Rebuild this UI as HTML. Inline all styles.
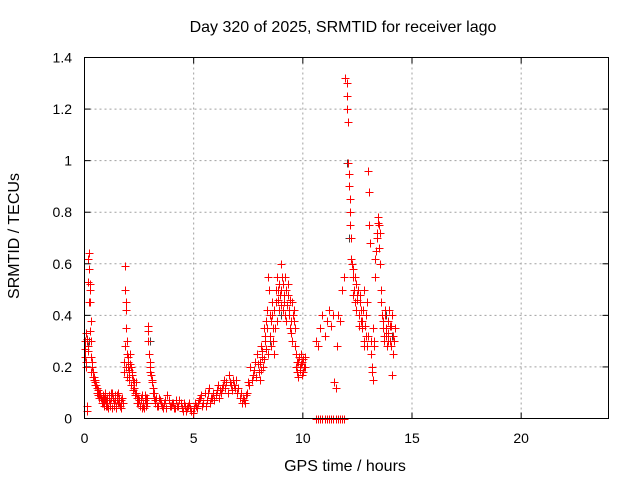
<!DOCTYPE html>
<html><head><meta charset="utf-8"><style>
html,body{margin:0;padding:0;background:#fff;}
svg{display:block;font-family:"Liberation Sans",sans-serif;}
</style></head><body>
<svg id="chart" width="640" height="480" viewBox="0 0 640 480" xmlns="http://www.w3.org/2000/svg">
<rect width="640" height="480" fill="#fff"/>
<text x="343" y="32" font-size="16" text-anchor="middle">Day 320 of 2025, SRMTID for receiver lago</text>
<text x="19" y="236" font-size="16" text-anchor="middle" transform="rotate(-90 19 236)">SRMTID / TECUs</text>
<text x="345" y="471" font-size="16" text-anchor="middle">GPS time / hours</text>
<g id="grid"></g>
<g id="ticks"></g>
<g id="grey"></g>
<g id="red"></g>
<rect x="84.5" y="57.5" width="524" height="361" fill="none" stroke="#000" stroke-width="1"/>
</svg>
<script>
const xTicks = [0,5,10,15,20];
const yTicks = [0,0.2,0.4,0.6,0.8,1,1.2,1.4];
const yTickLabels = ["0","0.2","0.4","0.6","0.8","1","1.2","1.4"];
const redTimes = [
0.02,0.04,0.06,0.08,0.1,0.12,0.14,0.16,0.18,0.2,0.22,0.24,0.26,0.28,0.3,0.32,
0.35,0.38,0.41,0.44,0.47,0.5,0.55,0.6,0.65,0.7,0.75,0.8,0.85,0.9,0.95,1.0,
1.05,1.1,1.15,1.2,1.25,1.3,1.35,1.4,1.45,1.5,1.55,1.6,1.65,1.7,1.75,
1.8,1.82,1.84,1.86,1.88,1.9,1.92,1.94,1.96,1.98,2.0,2.04,2.08,2.12,2.16,2.2,2.25,2.3,2.35,2.4,2.45,2.5,
2.55,2.6,2.65,2.7,2.75,2.8,2.85,2.9,2.93,2.96,3.0,3.05,3.1,3.15,3.2,
3.25,3.3,3.4,3.5,3.6,3.7,3.8,3.9,4.0,4.1,4.2,4.3,4.4,4.5,4.6,4.7,4.8,4.9,5.0,5.1,
5.2,5.3,5.4,5.5,5.6,5.7,5.8,5.9,6.0,6.1,6.2,6.3,6.4,6.5,6.6,6.7,6.8,6.9,7.0,7.1,7.2,7.3,7.4,
7.5,7.6,7.7,7.8,7.9,8.0,8.05,8.1,8.15,8.2,8.25,8.3,8.35,8.4,8.45,8.5,8.55,8.6,8.65,8.7,
8.75,8.8,8.85,8.9,8.95,9.0,9.05,9.1,9.15,9.2,9.25,9.3,9.35,9.4,9.45,9.5,9.55,9.6,9.65,9.7,
9.75,9.8,9.85,9.9,9.95,10.0,10.05,10.1,
10.6,10.7,10.8,10.9,11.0,11.1,11.2,11.3,11.4,11.5,11.6,11.7,11.8,11.9,
10.6,10.7,10.8,10.9,11.0,11.1,11.2,11.3,11.4,11.45,11.5,11.55,11.6,11.7,11.8,11.9,
11.95,12.0,12.02,12.04,12.06,12.08,12.1,12.12,12.14,12.16,12.18,12.2,12.22,12.25,12.3,
12.35,12.4,12.45,12.5,12.55,12.6,12.65,12.7,12.75,12.8,12.85,12.9,12.95,13.0,13.02,13.05,13.08,13.1,13.15,13.2,
13.25,13.3,13.35,13.4,13.45,13.5,13.55,13.6,13.65,13.7,13.75,13.8,13.85,13.9,13.95,14.0,14.05,14.1,14.15,14.2
];
const redValues = [
0.3,0.24,0.22,0.33,0.05,0.03,0.28,0.53,0.62,0.64,0.58,0.52,0.45,0.38,0.3,0.24,
0.2,0.18,0.16,0.15,0.14,0.13,0.12,0.11,0.1,0.09,0.08,0.07,0.06,0.08,0.1,0.07,
0.05,0.09,0.06,0.1,0.04,0.08,0.06,0.09,0.05,0.07,0.1,0.06,0.04,0.08,0.06,
0.18,0.22,0.59,0.5,0.45,0.42,0.35,0.3,0.25,0.2,0.22,0.18,0.25,0.2,0.17,0.15,0.12,0.1,0.14,0.08,0.06,0.07,
0.05,0.08,0.04,0.06,0.09,0.05,0.08,0.36,0.34,0.25,0.2,0.17,0.14,0.12,0.1,
0.07,0.05,0.08,0.06,0.04,0.07,0.09,0.05,0.06,0.04,0.07,0.05,0.06,0.03,0.05,0.04,0.06,0.03,0.04,0.05,
0.06,0.08,0.05,0.1,0.07,0.12,0.08,0.1,0.09,0.13,0.11,0.12,0.15,0.14,0.17,0.13,0.15,0.12,0.1,0.08,0.06,0.07,0.09,
0.14,0.2,0.17,0.22,0.25,0.18,0.22,0.28,0.24,0.35,0.3,0.38,0.42,0.55,0.5,0.32,0.28,0.4,0.35,0.25,
0.45,0.55,0.5,0.42,0.48,0.6,0.55,0.52,0.45,0.4,0.5,0.48,0.42,0.35,0.33,0.45,0.4,0.38,0.28,0.2,
0.18,0.22,0.2,0.25,0.22,0.18,0.2,0.24,
0,0,0,0,0,0,0,0,0,0,0,0,0,0,
0.3,0.28,0.35,0.4,0.32,0.38,0.42,0.36,0.4,0.14,0.12,0.28,0.4,0.38,0.5,0.55,
1.32,1.3,1.25,1.2,1.15,0.99,0.95,0.9,0.85,0.8,0.75,0.7,0.62,0.6,0.55,
0.5,0.45,0.52,0.48,0.4,0.45,0.38,0.35,0.42,0.3,0.36,0.32,0.28,0.96,0.88,0.75,0.68,0.25,0.18,0.15,
0.3,0.55,0.65,0.72,0.78,0.75,0.6,0.45,0.38,0.32,0.4,0.35,0.28,0.33,0.42,0.3,0.36,0.17,0.25,0.35
];
const redTimes2 = [
0.03,0.07,0.11,0.15,0.19,0.23,0.27,0.31,0.36,0.42,0.48,0.53,0.58,0.63,0.68,0.72,0.78,0.83,0.88,0.93,0.98,1.03,1.08,1.13,1.18,1.23,1.28,1.33,1.38,1.43,1.48,1.53,1.58,1.63,1.68,
1.85,1.9,1.95,2.0,2.02,2.06,2.1,2.14,2.18,2.22,2.27,2.32,2.37,2.42,2.47,2.52,2.57,2.62,2.67,2.72,2.77,2.82,2.87,
2.92,2.98,3.02,3.08,3.12,3.18,3.22,3.28,3.35,3.45,3.55,3.65,3.75,3.85,3.95,4.05,4.15,4.25,4.35,4.45,4.55,4.65,4.75,4.85,4.95,5.05,5.15,5.25,5.35,5.45,5.55,5.65,5.75,5.85,5.95,
6.05,6.15,6.25,6.35,6.45,6.55,6.65,6.75,6.85,6.95,7.05,7.15,7.25,7.35,7.45,7.55,7.65,7.75,7.85,7.95,8.02,8.08,8.12,8.18,8.22,8.28,8.32,8.38,8.42,8.48,
8.52,8.58,8.62,8.68,8.72,8.78,8.82,8.88,8.92,8.98,9.02,9.08,9.12,9.18,9.22,9.28,9.32,9.38,9.42,9.48,9.52,9.58,9.62,9.68,9.72,9.78,9.82,9.88,9.92,9.98,10.02,10.08,
12.28,12.32,12.38,12.42,12.48,12.52,12.58,12.62,12.68,12.72,12.78,12.82,12.88,12.92,12.98,13.12,13.18,13.22,13.28,13.32,13.38,13.42,13.48,13.52,13.58,13.62,13.68,13.72,13.78,13.82,13.88,13.92,13.98,14.02,14.08,14.12,14.18
];
const redValues2 = [
0.27,0.2,0.31,0.26,0.45,0.5,0.34,0.18,0.22,0.16,0.15,0.13,0.1,0.09,0.08,0.1,0.06,0.09,0.05,0.07,0.05,0.08,0.04,0.07,0.05,0.08,0.1,0.05,0.07,0.04,0.09,0.06,0.08,0.05,0.07,
0.28,0.2,0.16,0.24,0.19,0.15,0.21,0.13,0.18,0.11,0.14,0.09,0.1,0.06,0.08,0.05,0.07,0.09,0.05,0.04,0.07,0.08,0.06,
0.3,0.22,0.18,0.15,0.1,0.08,0.06,0.08,0.05,0.07,0.05,0.06,0.04,0.07,0.05,0.06,0.04,0.05,0.07,0.04,0.06,0.03,0.05,0.04,0.02,0.06,0.04,0.07,0.09,0.06,0.05,0.1,0.06,0.08,0.07,
0.11,0.08,0.1,0.13,0.12,0.1,0.14,0.11,0.13,0.15,0.12,0.1,0.08,0.06,0.1,0.13,0.15,0.19,0.16,0.21,0.15,0.19,0.26,0.2,0.23,0.32,0.27,0.35,0.25,0.4,
0.38,0.45,0.3,0.42,0.35,0.5,0.38,0.46,0.52,0.44,0.5,0.42,0.48,0.55,0.38,0.44,0.52,0.4,0.46,0.38,0.3,0.42,0.35,0.25,0.22,0.16,0.24,0.19,0.21,0.17,0.23,0.2,
0.58,0.48,0.55,0.42,0.46,0.5,0.36,0.48,0.42,0.38,0.5,0.28,0.4,0.45,0.32,0.3,0.2,0.35,0.28,0.62,0.7,0.76,0.66,0.72,0.5,0.4,0.35,0.3,0.42,0.32,0.38,0.3,0.36,0.28,0.4,0.32,0.3
];
const greyTimes = [0.1,0.2,2.0,3.0,8.5,9.0,12.0,12.1,13.8,14.1];
const greyValues = [0.3,0.3,0.2,0.3,0.3,0.4,0.99,0.7,0.4,0.32];

const X0=84.5, X1=608.5, Y0=418.5, Y1=57.5;
const xScale = t => X0 + t/24*(X1-X0);
const yScale = v => Y0 - v/1.4*(Y0-Y1);
const NS="http://www.w3.org/2000/svg";
function mk(tag, attrs, parent){const e=document.createElementNS(NS,tag);for(const k in attrs)e.setAttribute(k,attrs[k]);parent.appendChild(e);return e;}
const grid=document.getElementById('grid'), ticks=document.getElementById('ticks');
xTicks.forEach((t,i)=>{
  const x=xScale(t);
  if(t>0){const g=mk('line',{x1:x,x2:x,y1:Y1,y2:Y0,stroke:'#a0a0a0','stroke-dasharray':'2,3'},grid);
  
  }
  mk('line',{x1:x,x2:x,y1:Y0,y2:Y0-6,stroke:'#000'},ticks);
  mk('line',{x1:x,x2:x,y1:Y1,y2:Y1+6,stroke:'#000'},ticks);
  const l=mk('text',{x:x,y:443,'font-size':14,'text-anchor':'middle'},ticks);
  l.textContent=String(t);
  
  
});
yTicks.forEach((v,i)=>{
  const y=yScale(v);
  if(v>0&&v<1.4){const g=mk('line',{x1:X0,x2:X1,y1:y,y2:y,stroke:'#a0a0a0','stroke-dasharray':'2,3'},grid);
  
  }
  mk('line',{x1:X0,x2:X0+6,y1:y,y2:y,stroke:'#000'},ticks);
  mk('line',{x1:X1,x2:X1-6,y1:y,y2:y,stroke:'#000'},ticks);
  const l=mk('text',{x:72,y:y+5,'font-size':14,'text-anchor':'end'},ticks);
  l.textContent=yTickLabels[i];
  
  
});
function plus(times, values, color, gid, name){
  const g=document.getElementById(gid); let d='';
  const n=Math.min(times.length, values.length);
  for(let i=0;i<n;i++){const x=Math.round(xScale(times[i]))+0.5, y=Math.round(yScale(values[i]))+0.5;
    d+=`M${x-4},${y}H${x+4}M${x},${y-4}V${y+4}`;}
  const p=mk('path',{d:d,stroke:color,'stroke-width':1,fill:'none'},g);
  
  
}
plus(greyTimes, greyValues, '#404040', 'grey', 'grey-markers');
plus(redTimes, redValues, '#ff0000', 'red', 'red-markers');
plus(redTimes2, redValues2, '#ff0000', 'red', 'red-markers-extra');
</script>
</body></html>
